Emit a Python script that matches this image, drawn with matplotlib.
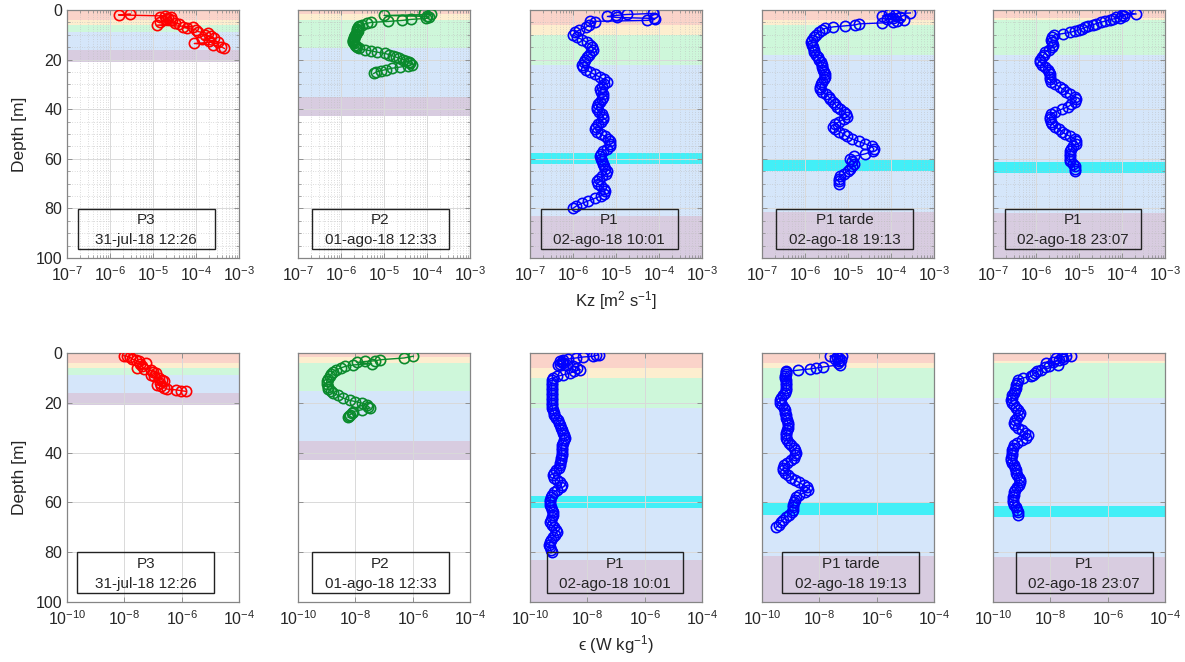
import matplotlib
matplotlib.use("Agg")
import matplotlib.pyplot as plt
from matplotlib.patches import Rectangle
from matplotlib.ticker import LogLocator, FixedLocator, NullLocator, NullFormatter, MultipleLocator

plt.rcParams.update({
    "font.family": ["Liberation Sans", "DejaVu Sans"],
    "mathtext.fontset": "custom",
    "mathtext.rm": "Liberation Sans",
    "mathtext.it": "Liberation Sans:italic",
    "mathtext.default": "regular",
    "font.size": 11,
})

# ---------------------------------------------------------------- stations
stations = ["P3", "P2", "P1", "P1 tarde", "P1"]
stamps = ["31-jul-18 12:26", "01-ago-18 12:33", "02-ago-18 10:01",
          "02-ago-18 19:13", "02-ago-18 23:07"]
profile_colors = ["#ff0000", "#0a8a2c", "#0000ff", "#0000ff", "#0000ff"]

# water-column layers (m): surface, red|yellow, yellow|green, green|blue, blue|purple, lower limit
layer_edges = [
    [0, 4.0, 6.0, 9.0, 16.0, 21.0],
    [0, 1.8, 4.2, 15.2, 35.2, 42.8],
    [0, 6.0, 10.0, 22.0, 83.0, 100.0],
    [0, 3.9, 5.9, 18.0, 81.6, 100.0],
    [0, 3.2, 3.9, 18.1, 81.8, 100.0],
]
layer_colors = ["#fad3c9", "#fdeecf", "#cef7da", "#d5e6fa", "#d8cce0"]
cyan_layer = [None, None, (57.5, 62.2), (60.3, 64.9), (61.4, 65.9)]

# ---------------------------------------------------------------- Kz profiles (log10 m2 s-1)
kz_p3_depth = [1.6, 2.0, 2.4, 2.7, 3.0, 3.4, 3.8, 4.2, 4.7, 5.1, 5.5, 6.1, 6.7, 7.0,
               7.4, 8.0, 8.7, 9.4, 10.0, 10.6, 11.4, 11.8, 12.3, 12.8, 13.5, 14.1, 14.8, 15.5]
kz_p3_log = [-5.53, -5.8, -4.71, -4.83, -4.59, -4.65, -4.7, -4.55, -4.83, -4.48, -4.4, -4.9,
             -4.08, -4.3, -4.2, -4.0, -3.96, -3.73, -3.8, -3.65, -3.57, -3.85, -3.7, -3.5,
             -4.04, -3.61, -3.42, -3.34]

kz_p2_depth = [1.3, 1.8, 2.2, 2.6, 3.0, 3.4, 3.8, 4.2, 4.6, 5.0, 5.4, 6.0, 6.5, 7.0, 7.5,
               8.0, 8.5, 9.0, 9.5, 10.0, 10.5, 11.0, 11.5, 12.0, 12.5, 13.0, 13.5, 14.0,
               14.5, 15.0, 15.5, 16.0, 16.5, 17.0, 17.5, 18.0, 18.5, 19.0, 19.5, 20.0,
               20.5, 21.0, 21.5, 22.0, 22.5, 23.0, 23.5, 24.0, 24.5, 25.0, 25.6]
kz_p2_log = [-4.07, -3.9, -5.0, -4.0, -3.95, -4.03, -4.38, -4.58, -4.9, -5.3, -5.4, -5.52,
             -5.58, -5.6, -5.62, -5.63, -5.6, -5.62, -5.66, -5.67, -5.68, -5.7, -5.7,
             -5.71, -5.72, -5.71, -5.7, -5.68, -5.66, -5.63, -5.58, -5.45, -5.3, -5.16,
             -4.98, -4.88, -4.8, -4.72, -4.65, -4.55, -4.48, -4.43, -4.4, -4.34, -4.45,
             -4.62, -4.82, -4.95, -5.08, -5.18, -5.24]

kz_p1am_depth = [1.4, 1.8, 2.2, 2.6, 3.0, 3.4, 3.8, 4.2, 4.6, 5.0,
                 6, 7, 8, 9, 10, 11, 12, 13, 14, 15, 16, 17, 18, 19, 20, 21, 22, 23, 24,
                 25, 26, 27, 28, 29, 30, 31, 32, 33, 34, 35, 36, 37, 38, 39, 40, 41, 42,
                 43, 44, 45, 46, 47, 48, 49, 50, 51, 52, 53, 54, 55, 56, 57, 58, 59, 60,
                 61, 62, 63, 64, 65, 66, 67, 68, 69, 70, 71, 72, 73, 74, 75, 76, 77, 78,
                 79, 80]
kz_p1am_log = [-4.15, -4.75, -5.0, -5.2, -4.98, -4.12, -4.1, -4.28, -5.6, -5.5,
               -5.62, -5.7, -5.85, -5.95, -6.0, -5.9, -5.78, -5.68, -5.6, -5.55, -5.53,
               -5.58, -5.63, -5.68, -5.72, -5.75, -5.78, -5.76, -5.7, -5.6, -5.5, -5.38,
               -5.28, -5.22, -5.28, -5.33, -5.37, -5.35, -5.3, -5.3, -5.32, -5.38, -5.42,
               -5.45, -5.45, -5.4, -5.33, -5.3, -5.3, -5.35, -5.42, -5.47, -5.48, -5.45,
               -5.35, -5.25, -5.18, -5.15, -5.14, -5.15, -5.22, -5.3, -5.36, -5.37, -5.35,
               -5.32, -5.3, -5.28, -5.25, -5.22, -5.24, -5.32, -5.4, -5.45, -5.43, -5.35,
               -5.28, -5.26, -5.27, -5.35, -5.5, -5.65, -5.8, -5.92, -6.0]

kz_p1pm_depth = [1.2, 1.6, 2.0, 2.4, 2.8, 3.2, 3.6, 4.0, 4.4, 4.8, 5.2, 5.6, 6.0, 6.4, 6.8,
                 7.4, 8, 9, 10, 11, 12, 13, 14, 15, 16, 17, 18, 19, 20, 21, 22, 23, 24,
                 25, 26, 27, 28, 29, 30, 31, 32, 33, 34, 35, 36, 37, 38, 39, 40, 41, 42,
                 43, 44, 45, 46, 47, 48, 49, 50, 51, 52, 53, 54, 55, 56, 57, 58, 59, 60,
                 61, 62, 63, 64, 65, 66, 67, 68, 69, 70]
kz_p1pm_log = [-3.55, -4.05, -3.9, -4.2, -3.8, -3.95, -4.1, -3.7, -3.85, -3.95, -4.2, -4.75,
               -4.83, -5.07, -5.34, -5.53, -5.6, -5.68, -5.75, -5.8, -5.84, -5.85, -5.83,
               -5.82, -5.8, -5.8, -5.75, -5.7, -5.67, -5.63, -5.6, -5.6, -5.58, -5.55,
               -5.53, -5.53, -5.56, -5.6, -5.63, -5.65, -5.65, -5.6, -5.52, -5.45, -5.41,
               -5.35, -5.3, -5.26, -5.18, -5.1, -5.05, -5.03, -5.1, -5.2, -5.3, -5.34,
               -5.3, -5.2, -5.1, -5.03, -4.9, -4.75, -4.6, -4.45, -4.4, -4.42, -4.6,
               -4.85, -4.95, -4.9, -4.85, -4.9, -4.95, -5.0, -5.1, -5.18, -5.22, -5.22, -5.2]

kz_p1nt_depth = [1.1, 1.6, 2.0, 2.4, 2.8, 3.2, 3.6, 4.0, 4.5, 5.0, 5.5, 6.0, 6.5, 7.0, 7.5,
                 8.0, 8.5, 9.0, 9.5, 10.0, 11, 12, 13, 14, 15, 16, 17, 18, 19, 20, 21, 22,
                 23, 24, 25, 26, 27, 28, 29, 30, 31, 32, 33, 34, 35, 36, 37, 38, 39, 40, 41,
                 42, 43, 44, 45, 46, 47, 48, 49, 50, 51, 52, 53, 54, 55, 56, 57, 58, 59, 60,
                 61, 62, 63, 64, 65]
kz_p1nt_log = [-3.93, -3.67, -4.0, -3.95, -4.14, -4.05, -4.2, -4.29, -4.4, -4.5, -4.6, -4.68,
               -4.78, -4.85, -4.92, -5.0, -5.1, -5.2, -5.37, -5.57, -5.62, -5.64, -5.63,
               -5.6, -5.62, -5.7, -5.78, -5.82, -5.87, -5.91, -5.9, -5.85, -5.78, -5.72,
               -5.7, -5.68, -5.68, -5.68, -5.65, -5.55, -5.45, -5.37, -5.3, -5.2, -5.1,
               -5.06, -5.1, -5.18, -5.25, -5.4, -5.55, -5.65, -5.68, -5.68, -5.66, -5.62,
               -5.55, -5.47, -5.4, -5.32, -5.2, -5.1, -5.06, -5.08, -5.15, -5.18, -5.2,
               -5.22, -5.22, -5.22, -5.2, -5.15, -5.1, -5.1, -5.1]

# ---------------------------------------------------------------- epsilon profiles (log10 W kg-1)
eps_p3_depth = [1.1, 1.3, 1.8, 2.4, 3.0, 3.4, 4.0, 4.6, 5.4, 6.0, 6.5, 7.0, 7.5, 8.0, 8.7,
                9.4, 10.0, 10.7, 11.4, 12.1, 12.8, 13.4, 14.0, 14.5, 14.8, 15.1, 15.4]
eps_p3_log = [-8.02, -7.9, -7.8, -7.73, -7.6, -7.5, -7.26, -7.45, -7.38, -7.55, -7.3, -7.08,
              -7.0, -6.91, -7.08, -6.95, -6.79, -6.7, -6.6, -6.75, -6.85, -6.73, -6.6,
              -6.5, -6.2, -6.03, -5.85]

eps_p2_depth = [1.3, 2.0, 2.7, 3.1, 3.4, 3.8, 4.3, 4.8, 5.4, 6.0, 6.7, 7.5, 8.5, 9.4, 10.5,
                11.4, 12.5, 13.5, 14.5, 15.3, 16.1, 17.0, 18.1, 19.0, 19.5, 20.1, 20.8,
                21.5, 22.1, 22.8, 23.5, 24.2, 24.8, 25.3, 25.8]
eps_p2_log = [-5.98, -6.3, -7.13, -7.3, -7.66, -7.95, -7.43, -8.07, -8.36, -8.5, -8.66,
              -8.78, -8.85, -8.89, -8.95, -9.0, -9.0, -8.97, -8.95, -8.85, -8.77, -8.6,
              -8.42, -8.2, -8.0, -7.78, -7.6, -7.55, -7.48, -7.78, -8.07, -8.1, -8.19,
              -8.22, -8.25]

eps_p1am_depth = [0.7, 1.0, 1.3, 1.6, 2.0, 2.4, 2.8, 3.2, 3.6, 4.0, 4.4, 4.7, 5.0, 5.4, 6.0,
                  6.7, 7.4, 8.1, 8.8, 9.4, 10.0, 11, 12, 13, 14, 15, 16, 17, 18, 19, 20,
                  21, 22, 23, 24, 25, 26, 27, 28, 29, 30, 31, 32, 33, 34, 35, 36, 37, 38,
                  39, 40, 41, 42, 43, 44, 45, 46, 47, 48, 49, 50, 51, 52, 53, 54, 55, 56,
                  57, 58, 59, 60, 61, 62, 63, 64, 65, 66, 67, 68, 69, 70, 71, 72, 73, 74,
                  75, 76, 77, 78, 79, 80]
eps_p1am_log = [-7.61, -7.7, -7.79, -8.14, -8.4, -8.66, -8.85, -8.95, -8.9, -8.84, -8.95,
                -9.01, -8.7, -8.49, -8.35, -8.25, -8.45, -8.6, -8.85, -9.05, -9.19, -9.22,
                -9.24, -9.25, -9.25, -9.25, -9.25, -9.24, -9.25, -9.25, -9.25, -9.24,
                -9.22, -9.2, -9.18, -9.15, -9.08, -9.02, -8.98, -8.95, -8.93, -8.9, -8.85,
                -8.8, -8.78, -8.8, -8.85, -8.88, -8.9, -8.9, -8.89, -8.9, -8.92, -8.93,
                -8.95, -8.96, -9.0, -9.08, -9.15, -9.19, -9.15, -9.05, -8.95, -8.9, -8.92,
                -9.05, -9.18, -9.25, -9.28, -9.3, -9.3, -9.3, -9.28, -9.22, -9.19, -9.2,
                -9.25, -9.28, -9.3, -9.25, -9.15, -9.08, -9.07, -9.12, -9.2, -9.28, -9.3,
                -9.32, -9.3, -9.28, -9.25]

eps_p1pm_depth = [1.1, 1.3, 1.7, 2.1, 2.5, 3.0, 3.4, 4.0, 4.7, 5.6, 6.0, 6.4, 6.9, 7.4, 7.8,
                  8.4, 9.4, 10, 11, 12, 13, 14, 15, 16, 17, 18, 19, 20, 21, 22, 23, 24, 25,
                  26, 27, 28, 29, 30, 31, 32, 33, 34, 35, 36, 37, 38, 39, 40, 41, 42, 43,
                  44, 45, 46, 47, 48, 49, 50, 51, 52, 53, 54, 55, 56, 57, 58, 59, 60, 61,
                  62, 63, 64, 65, 66, 67, 68, 69, 70]
eps_p1pm_log = [-7.22, -7.63, -7.4, -7.3, -7.45, -7.25, -7.33, -7.35, -7.27, -7.86, -8.1,
                -8.33, -8.74, -9.15, -9.15, -9.18, -9.2, -9.2, -9.18, -9.15, -9.15, -9.15,
                -9.16, -9.2, -9.28, -9.35, -9.38, -9.36, -9.3, -9.25, -9.2, -9.2, -9.18,
                -9.15, -9.12, -9.1, -9.09, -9.1, -9.12, -9.15, -9.15, -9.15, -9.12, -9.05,
                -8.98, -8.9, -8.85, -8.83, -8.85, -8.9, -9.0, -9.12, -9.22, -9.26, -9.26,
                -9.2, -9.1, -8.98, -8.85, -8.7, -8.55, -8.42, -8.39, -8.5, -8.7, -8.8,
                -8.85, -8.9, -8.92, -8.92, -8.92, -8.95, -9.05, -9.18, -9.26, -9.35, -9.42,
                -9.5]

eps_p1nt_depth = [1.1, 1.3, 1.6, 2.0, 2.5, 3.0, 3.5, 4.0, 4.7, 5.2, 5.8, 6.7, 7.4, 8.0, 8.7,
                  9.4, 10.0, 10.7, 12, 13, 14, 15, 16, 17, 18, 19, 20, 21, 22, 23, 24, 25,
                  26, 27, 28, 29, 30, 31, 32, 33, 34, 35, 36, 37, 38, 39, 40, 41, 42, 43,
                  44, 45, 46, 47, 48, 49, 50, 51, 52, 53, 54, 55, 56, 57, 58, 59, 60, 61,
                  62, 63, 64, 65]
eps_p1nt_log = [-7.27, -7.45, -7.6, -7.8, -7.55, -7.7, -7.9, -8.14, -7.74, -8.05, -8.2,
                -8.32, -8.45, -8.55, -8.6, -8.66, -8.95, -9.13, -9.17, -9.19, -9.2, -9.22,
                -9.28, -9.32, -9.35, -9.36, -9.35, -9.28, -9.2, -9.12, -9.07, -9.1, -9.18,
                -9.22, -9.25, -9.22, -9.12, -9.0, -8.88, -8.78, -8.85, -9.0, -9.15, -9.28,
                -9.3, -9.32, -9.34, -9.35, -9.36, -9.36, -9.32, -9.28, -9.24, -9.2, -9.19,
                -9.15, -9.1, -9.07, -9.07, -9.1, -9.18, -9.24, -9.25, -9.27, -9.3, -9.3,
                -9.3, -9.28, -9.2, -9.15, -9.13, -9.13]

kz_profiles = [(kz_p3_depth, kz_p3_log), (kz_p2_depth, kz_p2_log),
               (kz_p1am_depth, kz_p1am_log), (kz_p1pm_depth, kz_p1pm_log),
               (kz_p1nt_depth, kz_p1nt_log)]
eps_profiles = [(eps_p3_depth, eps_p3_log), (eps_p2_depth, eps_p2_log),
                (eps_p1am_depth, eps_p1am_log), (eps_p1pm_depth, eps_p1pm_log),
                (eps_p1nt_depth, eps_p1nt_log)]

# ---------------------------------------------------------------- layout
W, H = 1185, 662
col_left_px = [67, 298, 530, 762, 993]
ax_w_px = 172
top_row_px = (10, 258)
bot_row_px = (353, 602)
box_center_top = [0.46, 0.48, 0.46, 0.48, 0.465]
box_center_bot = [0.458, 0.48, 0.494, 0.515, 0.53]

edge_gray = "#858585"
text_dark = "#262626"

fig = plt.figure(figsize=(W / 100, H / 100), dpi=100)


def style_axes(ax, xlim, major, minor_grid, show_ylabels):
    ax.set_xscale("log")
    ax.set_xlim(*xlim)
    ax.set_ylim(100, 0)
    ax.xaxis.set_major_locator(FixedLocator(major))
    if minor_grid:
        ax.xaxis.set_minor_locator(LogLocator(base=10, subs=range(2, 10), numticks=20))
        ax.yaxis.set_minor_locator(MultipleLocator(5))
    else:
        ax.xaxis.set_minor_locator(NullLocator())
    ax.xaxis.set_minor_formatter(NullFormatter())
    ax.set_yticks([0, 20, 40, 60, 80, 100])
    if not show_ylabels:
        ax.set_yticklabels([])
    ax.set_axisbelow("line")
    ax.grid(True, which="major", color="#d9d9d9", linewidth=0.7)
    if minor_grid:
        ax.grid(True, which="minor", color="#bdbdbd", linewidth=0.5, linestyle=(0, (1, 2.5)))
    ax.tick_params(which="both", direction="in", top=True, right=True,
                   colors=edge_gray, labelcolor=text_dark, labelsize=11.5)
    ax.tick_params(which="major", length=3.5, width=0.6)
    ax.tick_params(which="minor", length=2, width=0.5)
    ax.tick_params(axis="x", pad=5)
    for s in ax.spines.values():
        s.set_color(edge_gray)
        s.set_linewidth(0.9)


def draw_layers(ax, i):
    edges = layer_edges[i]
    for k in range(5):
        ax.axhspan(edges[k], edges[k + 1], color=layer_colors[k], linewidth=0, zorder=1)
    if cyan_layer[i] is not None:
        ax.axhspan(*cyan_layer[i], color="#42eff7", linewidth=0, zorder=1.2)


def draw_label(ax, i, cx):
    ax.add_patch(Rectangle((cx - 0.398, 0.036), 0.796, 0.163, transform=ax.transAxes,
                           fill=False, edgecolor="#222222", linewidth=1.0, zorder=4))
    ax.text(cx, 0.153, stations[i], transform=ax.transAxes, ha="center", va="center",
            fontsize=11, color=text_dark, zorder=5)
    ax.text(cx, 0.073, stamps[i], transform=ax.transAxes, ha="center", va="center",
            fontsize=11, color=text_dark, zorder=5)


for i in range(5):
    left = col_left_px[i] / W
    w = ax_w_px / W
    for row, (y0, y1) in enumerate([top_row_px, bot_row_px]):
        ax = fig.add_axes([left, 1 - y1 / H, w, (y1 - y0) / H])
        draw_layers(ax, i)
        if row == 0:
            depth, logv = kz_profiles[i]
            style_axes(ax, (1e-7, 1e-3), [1e-7, 1e-6, 1e-5, 1e-4, 1e-3], True, i == 0)
            draw_label(ax, i, box_center_top[i])
            if i == 2:
                ax.set_xlabel("Kz [m$^2$ s$^{-1}$]", fontsize=12, color=text_dark, labelpad=4)
        else:
            depth, logv = eps_profiles[i]
            style_axes(ax, (1e-10, 1e-4), [1e-10, 1e-8, 1e-6, 1e-4], False, i == 0)
            draw_label(ax, i, box_center_bot[i])
            if i == 2:
                ax.set_xlabel("\u03f5 (W kg$^{-1}$)", fontsize=12, color=text_dark,
                              labelpad=4)
        values = [10 ** v for v in logv]
        ax.plot(values, depth, color=profile_colors[i], linewidth=1.0, marker="o",
                markersize=7.4, markerfacecolor="none", markeredgewidth=1.2, zorder=3)
        if i == 0:
            ax.set_ylabel("Depth [m]", fontsize=12.5, color=text_dark, labelpad=6)

fig.savefig("out.png", dpi=100)
